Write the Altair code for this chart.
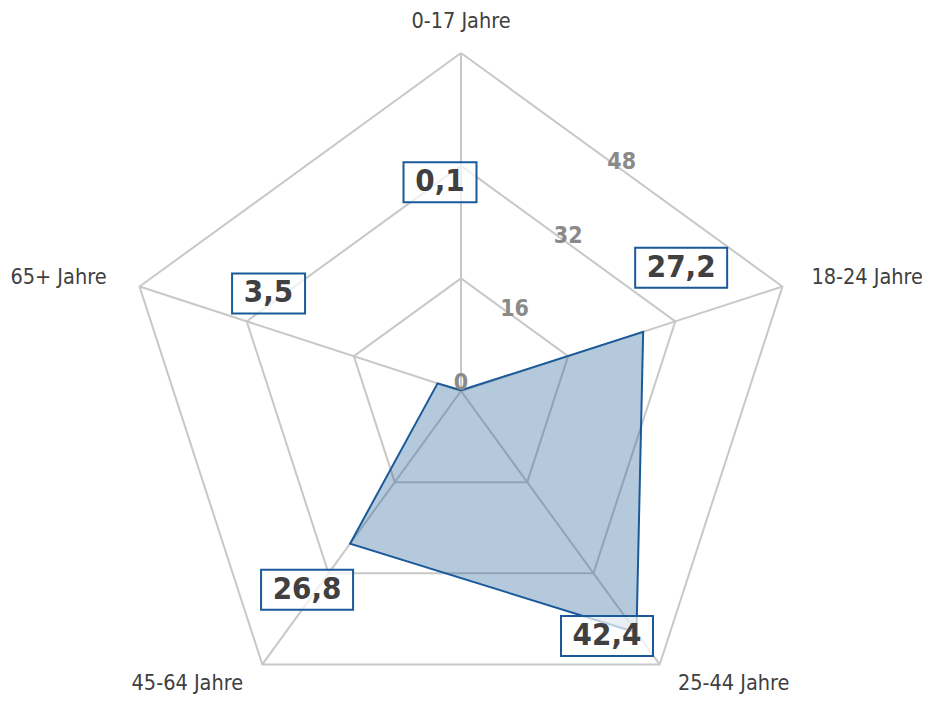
import math
import altair as alt
import pandas as pd

# ---------------- data ----------------
categories = ["0-17 Jahre", "18-24 Jahre", "25-44 Jahre", "45-64 Jahre", "65+ Jahre"]
values = [0.1, 27.2, 42.4, 26.8, 3.5]
value_labels = ["0,1", "27,2", "42,4", "26,8", "3,5"]
ticks = [0, 16, 32, 48]
tick_labels = ["0", "16", "32", "48"]

# ---------------- layout ----------------
W, H = 914, 688            # plot area (px)
PX = 338 / 48              # px per data unit
CX, CY = 453, 383          # centre of the radar in plot px
XMIN, XMAX = -CX / PX, (W - CX) / PX
YMIN, YMAX = -(H - CY) / PX, CY / PX
RMAX = max(ticks)
angles = [90 - 72 * i for i in range(len(categories))]

# pixel offsets of value-label boxes from their data vertex (dx right, dy down)
value_label_off = [(-21, -208), (38, -64), (-29.5, 3.5), (-43, 46), (-169, -90)]
# pixel offsets of category labels from outer vertex, with alignment
cat_label_off = [(0, -31, "center"), (29, -9, "left"), (74, 20, "center"),
                 (-75, 20, "center"), (-33, -9, "right")]

FONT = "DejaVu Sans Condensed, DejaVu Sans"
BLUE = "#1a5a9a"
GRID = "#c8c8c8"


def pol(r, a):
    return r * math.cos(math.radians(a)), r * math.sin(math.radians(a))


# grid rings
grid_rows = []
for t in ticks[1:]:
    for i in range(len(categories) + 1):
        x, y = pol(t, angles[i % len(categories)])
        grid_rows.append({"ring": t, "i": i, "x": x, "y": y})
grid_df = pd.DataFrame(grid_rows)

# spokes
spoke_rows = []
for c, a in zip(categories, angles):
    x, y = pol(RMAX, a)
    spoke_rows.append({"cat": c, "x": 0.0, "y": 0.0, "x2": x, "y2": y})
spoke_df = pd.DataFrame(spoke_rows)

# polygon
poly_rows = []
for i in range(len(categories) + 1):
    k = i % len(categories)
    x, y = pol(values[k], angles[k])
    poly_rows.append({"i": i, "x": x, "y": y, "cat": categories[k], "v": values[k]})
poly_df = pd.DataFrame(poly_rows)

# value label boxes
box_rows = []
for v, lab, a, (dx, dy) in zip(values, value_labels, angles, value_label_off):
    vx, vy = pol(v, a)
    lx, ly = vx + dx / PX, vy - dy / PX
    hw = (19 * len(lab) + 16) / 2 / PX
    hh = 20 / PX
    box_rows.append({"label": lab, "lx": lx, "ly": ly,
                     "x": lx - hw, "x2": lx + hw, "y": ly - hh, "y2": ly + hh})
box_df = pd.DataFrame(box_rows)

# tick labels
tick_rows = []
for t, lab in zip(ticks, tick_labels):
    x, y = pol(t * math.cos(math.radians(36)), 54)
    tick_rows.append({"label": lab, "x": x, "y": y + 8 / PX})
tick_df = pd.DataFrame(tick_rows)

# category labels
cat_rows = []
for c, a, (dx, dy, al) in zip(categories, angles, cat_label_off):
    x, y = pol(RMAX, a)
    cat_rows.append({"cat": c, "x": x + dx / PX, "y": y - dy / PX, "align": al})
cat_df = pd.DataFrame(cat_rows)

xs = alt.Scale(domain=[XMIN, XMAX], nice=False, zero=False)
ys = alt.Scale(domain=[YMIN, YMAX], nice=False, zero=False)


def X(f):
    return alt.X(f, type="quantitative", scale=xs, axis=None)


def Y(f):
    return alt.Y(f, type="quantitative", scale=ys, axis=None)


grid = alt.Chart(grid_df).mark_line(color=GRID, strokeWidth=2, strokeJoin="miter").encode(
    x=X("x"), y=Y("y"), detail="ring:N", order="i:Q")

spokes = alt.Chart(spoke_df).mark_rule(color=GRID, strokeWidth=2).encode(
    x=X("x"), y=Y("y"), x2="x2:Q", y2="y2:Q")

poly = alt.Chart(poly_df).mark_line(
    fill="#1f5c99", fillOpacity=0.33, stroke=BLUE, strokeWidth=2, strokeJoin="miter"
).encode(x=X("x"), y=Y("y"), order="i:Q")

tick_text = alt.Chart(tick_df).mark_text(
    font=FONT, fontSize=23, fontWeight="bold", color="#8a8a8a", baseline="middle", align="center"
).encode(x=X("x"), y=Y("y"), text="label:N")

boxes = alt.Chart(box_df).mark_rect(
    fill="white", fillOpacity=0.7, stroke=BLUE, strokeWidth=2
).encode(x=X("x"), x2="x2:Q", y=Y("y"), y2="y2:Q")

box_text = alt.Chart(box_df).mark_text(
    font=FONT, fontSize=31, fontWeight="bold", color="#404040", baseline="middle", align="center"
).encode(x=X("lx"), y=Y("ly"), text="label:N")

cat_layers = []
for al in ["center", "left", "right"]:
    cat_layers.append(
        alt.Chart(cat_df).transform_filter(alt.datum.align == al).mark_text(
            font=FONT, fontSize=21.5, color="#404040", baseline="middle", align=al
        ).encode(x=X("x"), y=Y("y"), text="cat:N")
    )

chart = alt.layer(grid, spokes, poly, tick_text, boxes, box_text, *cat_layers).properties(
    width=W, height=H, autosize=alt.AutoSizeParams(type="none"), padding=0
).configure_view(strokeWidth=0)

chart.save("out.html", embed_options={"renderer": "svg", "actions": False})
